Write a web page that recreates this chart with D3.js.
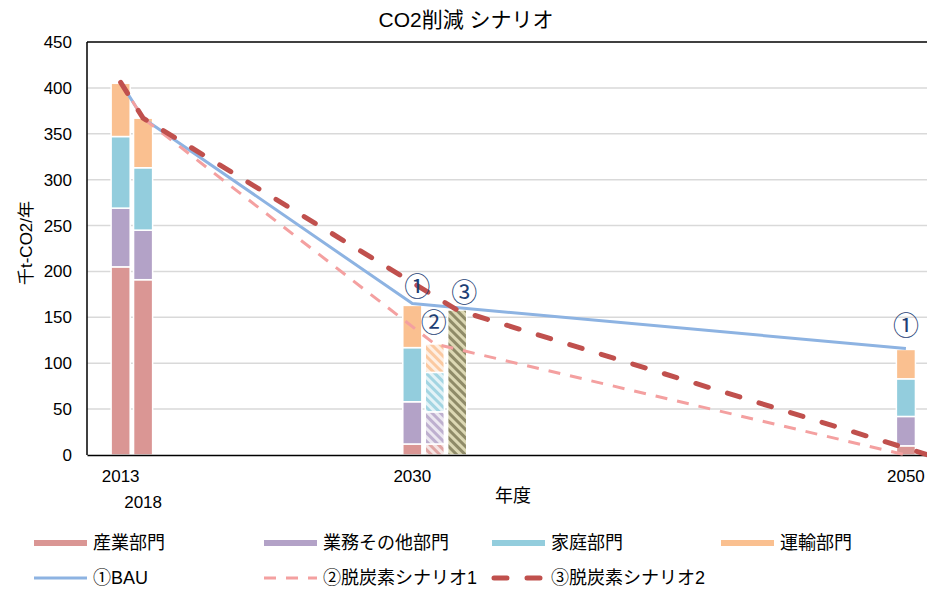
<!DOCTYPE html>
<html>
<head>
<meta charset="utf-8">
<script src="https://cdn.jsdelivr.net/npm/d3@7"></script>
<style>
  html, body { margin: 0; padding: 0; background: #fff; }
  svg { display: block; font-family: "Liberation Sans", "Noto Sans CJK JP", sans-serif; }
</style>
</head>
<body>
<svg id="chart" width="927" height="589"></svg>
<script>
// Category axis: one slot per year, with extra slots beside 2030 for the scenario bars
const axisCategories = [
  "2013", "2018",
  ...d3.range(2019, 2030).map(String),
  "2030", "2030②", "2030③",
  ...d3.range(2031, 2050).map(String),
  "2050", "2050②"
];
const xTickLabels = ["2013", "2018", "2030", "2050"];
const yTicks = [0, 50, 100, 150, 200, 250, 300, 350, 400, 450];

// Sector emissions (千t-CO2/年)
const barCategories = ["2013", "2018", "2030", "2030②", "2050"];
const sectorNames = ["産業部門", "業務その他部門", "家庭部門", "運輸部門"];
const industry   = [205, 191, 12, 12, 10];
const commercial = [64, 54, 46, 35, 32];
const household  = [78, 68, 59, 43, 41];
const transport  = [58, 54, 46, 31, 32];
const hatchedCategories = ["2030②"];

// Scenario ③ total shown as a single bar
const scenario3BarCategories = ["2030③"];
const scenario3BarValues = [158];

// Scenario lines
const bauCategories = ["2013", "2018", "2030", "2050"];
const bauValues     = [406, 367, 165, 116];
const scen1Categories = ["2013", "2018", "2030②", "2050"];
const scen1Values     = [406, 367, 121, 0];
const scen2Categories = ["2013", "2018", "2030③", "2050②"];
const scen2Values     = [406, 367, 158, 0];
const lineNames = ["①BAU", "②脱炭素シナリオ1", "③脱炭素シナリオ2"];

// Circled scenario markers above bars
const markerCategories = ["2030", "2030②", "2030③", "2050"];
const markerTexts = ["①", "②", "③", "①"];

const sectorColors = ["#da9694", "#b3a2c7", "#93cddd", "#fac090"];
const lineColors = ["#8db3e2", "#f4a0a0", "#c0504d"];

const svg = d3.select("#chart");
const plot = { left: 87, right: 962, top: 42, bottom: 455 };

const x = d3.scaleBand()
  .domain(axisCategories)
  .range([plot.left, plot.right])
  .paddingInner(0)
  .paddingOuter(1);
const barW = x.bandwidth() * 0.85;
const cx = c => x(c) + x.bandwidth() / 2;

const y = d3.scaleLinear().domain([0, 450]).range([plot.bottom, plot.top]);

// Hatch patterns
const defs = svg.append("defs");
function lighten(c, t) { return d3.interpolateRgb(c, "#ffffff")(t); }
sectorColors.forEach((c, i) => {
  const p = defs.append("pattern")
    .attr("id", "hatch" + i)
    .attr("patternUnits", "userSpaceOnUse")
    .attr("width", 6).attr("height", 6)
    .attr("patternTransform", "rotate(-45)");
  p.append("rect").attr("width", 6).attr("height", 6).attr("fill", lighten(c, 0.75));
  p.append("rect").attr("width", 3).attr("height", 6).attr("fill", lighten(c, 0.15));
});
{
  const p = defs.append("pattern")
    .attr("id", "hatchOlive")
    .attr("patternUnits", "userSpaceOnUse")
    .attr("width", 6).attr("height", 6)
    .attr("patternTransform", "rotate(-45)");
  p.append("rect").attr("width", 6).attr("height", 6).attr("fill", "#dcd8b4");
  p.append("rect").attr("width", 3).attr("height", 6).attr("fill", "#8f8b68");
}
defs.append("clipPath").attr("id", "plotClip")
  .append("rect")
  .attr("x", plot.left).attr("y", plot.top - 10)
  .attr("width", plot.right - plot.left).attr("height", plot.bottom - plot.top + 20);

// Gridlines
svg.append("g").selectAll("line")
  .data(yTicks.filter(v => v > 0 && v < 450))
  .join("line")
  .attr("x1", plot.left).attr("x2", plot.right)
  .attr("y1", d => y(d)).attr("y2", d => y(d))
  .attr("stroke", "#d9d9d9").attr("stroke-width", 1.5);

// Stacked sector bars
const rows = barCategories.map((c, i) => ({
  cat: c,
  [sectorNames[0]]: industry[i],
  [sectorNames[1]]: commercial[i],
  [sectorNames[2]]: household[i],
  [sectorNames[3]]: transport[i]
}));
const stacked = d3.stack().keys(sectorNames)(rows);

svg.append("g").selectAll("g")
  .data(stacked)
  .join("g")
  .each(function(layer, li) {
    d3.select(this).selectAll("rect")
      .data(layer)
      .join("rect")
      .attr("x", d => cx(d.data.cat) - barW / 2)
      .attr("width", barW)
      .attr("y", d => y(d[1]))
      .attr("height", d => y(d[0]) - y(d[1]))
      .attr("fill", d => hatchedCategories.includes(d.data.cat) ? `url(#hatch${li})` : sectorColors[li])
      .attr("stroke", "#fff")
      .attr("stroke-width", 1.5);
  });

// Scenario ③ bar
svg.append("g").selectAll("rect")
  .data(scenario3BarCategories.map((c, i) => ({ cat: c, v: scenario3BarValues[i] })))
  .join("rect")
  .attr("x", d => cx(d.cat) - barW / 2)
  .attr("width", barW)
  .attr("y", d => y(d.v))
  .attr("height", d => y(0) - y(d.v))
  .attr("fill", "url(#hatchOlive)")
  .attr("stroke", "#fff")
  .attr("stroke-width", 1.5);

// Plot frame (top and left) and bottom axis
svg.append("line").attr("x1", plot.left).attr("x2", plot.right)
  .attr("y1", plot.top).attr("y2", plot.top)
  .attr("stroke", "#000").attr("stroke-width", 1.5);
svg.append("line").attr("x1", plot.left).attr("x2", plot.left)
  .attr("y1", plot.top).attr("y2", plot.bottom)
  .attr("stroke", "#000").attr("stroke-width", 1.5);

const xAxis = svg.append("g")
  .attr("transform", `translate(0,${plot.bottom})`)
  .call(d3.axisBottom(x).tickValues(xTickLabels).tickSize(0).tickSizeOuter(0));
xAxis.select(".domain").attr("stroke", "#000").attr("stroke-width", 1.5);
xAxis.selectAll("text")
  .attr("font-size", 17).attr("font-family", null).attr("fill", "#000")
  .attr("y", d => d === "2018" ? 47 : 21)
  .attr("dy", "0.35em");

const yAxis = svg.append("g")
  .attr("transform", `translate(${plot.left},0)`)
  .call(d3.axisLeft(y).tickValues(yTicks).tickSize(0).tickPadding(15));
yAxis.select(".domain").remove();
yAxis.selectAll("text").attr("font-size", 17).attr("font-family", null).attr("fill", "#000");

// Scenario lines
const lineGen = d3.line().x(d => cx(d.c)).y(d => y(d.v));
const lineSpecs = [
  { cats: bauCategories, vals: bauValues, color: lineColors[0], w: 3, dash: null, cap: "butt" },
  { cats: scen1Categories, vals: scen1Values, color: lineColors[1], w: 3, dash: "12,10", cap: "butt" },
  { cats: scen2Categories, vals: scen2Values, color: lineColors[2], w: 5, dash: "13,20", cap: "round" }
];
const lineLayer = svg.append("g").attr("clip-path", "url(#plotClip)");
lineSpecs.forEach(s => {
  lineLayer.append("path")
    .datum(s.cats.map((c, i) => ({ c, v: s.vals[i] })))
    .attr("d", lineGen)
    .attr("fill", "none")
    .attr("stroke", s.color)
    .attr("stroke-width", s.w)
    .attr("stroke-dasharray", s.dash)
    .attr("stroke-linecap", s.cap)
    .attr("stroke-linejoin", "round");
});

// Circled scenario markers
const totalAt = c => {
  const i = barCategories.indexOf(c);
  if (i >= 0) return industry[i] + commercial[i] + household[i] + transport[i];
  return scenario3BarValues[scenario3BarCategories.indexOf(c)];
};
const markerNudge = [[5, -21], [-1, -23], [7, -19], [0, -26]];
svg.append("g").selectAll("text")
  .data(markerCategories.map((c, i) => ({ c, t: markerTexts[i], n: markerNudge[i] })))
  .join("text")
  .attr("x", d => cx(d.c) + d.n[0])
  .attr("y", d => y(totalAt(d.c)) + d.n[1])
  .attr("text-anchor", "middle")
  .attr("dominant-baseline", "central")
  .attr("font-family", "Noto Sans CJK JP")
  .attr("font-size", 26)
  .attr("fill", "#1f3f75")
  .text(d => d.t);

// Titles
svg.append("text")
  .attr("x", 466).attr("y", 19)
  .attr("text-anchor", "middle").attr("dominant-baseline", "central")
  .attr("font-size", 21).attr("fill", "#000")
  .text("CO2削減 シナリオ");
svg.append("text")
  .attr("transform", "translate(26,243) rotate(-90)")
  .attr("text-anchor", "middle").attr("dominant-baseline", "central")
  .attr("font-size", 17).attr("fill", "#000")
  .text("千t-CO2/年");
svg.append("text")
  .attr("x", 513).attr("y", 496)
  .attr("text-anchor", "middle").attr("dominant-baseline", "central")
  .attr("font-size", 18).attr("fill", "#000")
  .text("年度");

// Legend
const legendCols = [34, 264, 492, 721];
const legend = svg.append("g");
sectorNames.forEach((name, i) => {
  legend.append("rect")
    .attr("x", legendCols[i]).attr("y", 540)
    .attr("width", 53).attr("height", 6)
    .attr("fill", sectorColors[i]);
  legend.append("text")
    .attr("x", legendCols[i] + 59).attr("y", 543)
    .attr("dominant-baseline", "central")
    .attr("font-size", 18).attr("fill", "#000")
    .text(name);
});
lineNames.forEach((name, i) => {
  const s = lineSpecs[i];
  legend.append("line")
    .attr("x1", legendCols[i] + (s.cap === "round" ? 2 : 0))
    .attr("x2", legendCols[i] + 53)
    .attr("y1", 578).attr("y2", 578)
    .attr("stroke", s.color).attr("stroke-width", s.w)
    .attr("stroke-dasharray", s.dash)
    .attr("stroke-linecap", s.cap);
  legend.append("text")
    .attr("x", legendCols[i] + 59).attr("y", 578)
    .attr("dominant-baseline", "central")
    .attr("font-size", 18).attr("fill", "#000")
    .text(name);
});
</script>
</body>
</html>
